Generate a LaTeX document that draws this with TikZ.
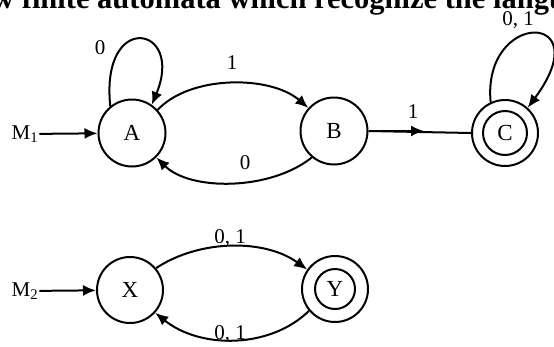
\documentclass[tikz,border=0pt]{standalone}
\usepackage{fontspec}
\setmainfont{Liberation Serif}
\usetikzlibrary{arrows.meta}
\begin{document}
\begin{tikzpicture}[x=1pt,y=-1pt,
  state/.style={circle,draw,line width=2pt,minimum size=67pt,inner sep=0pt,font=\fontsize{23}{25}\selectfont},
  inner/.style={circle,draw,line width=2pt,inner sep=0pt,font=\fontsize{23}{25}\selectfont},
  edge/.style={line width=2pt,-{Latex[length=13pt,width=11pt]}},
  lbl/.style={font=\fontsize{21}{23}\selectfont,inner sep=1pt}]
\useasboundingbox (0,0) rectangle (554,346);
\clip (0,0) rectangle (554,346);
\node[anchor=base west,font=\fontsize{30.5}{34}\bfseries\selectfont,inner sep=0pt] (title) at (-8,8) {w finite automata which recognize the language};
\node[state] (A) at (132,133) {A};
\node[state] (B) at (334,131) {B};
\node[state,minimum size=66pt] (C) at (505,133) {};
\node[inner,minimum size=44pt] (Ci) at (505,133) {C};
\node[state,minimum size=66pt] (X) at (130,290) {X};
\node[state,minimum size=66pt] (Y) at (335,289) {};
\node[inner,minimum size=40pt] (Yi) at (335,289) {Y};
\node[lbl] (M1) at (25,134) {M\textsubscript{1}};
\node[lbl] (M2) at (25,291) {M\textsubscript{2}};
\draw[edge] (M1) -- (A);
\draw[edge] (M2) -- (X);
% A self loop
\draw[edge] (A.129) .. controls (100,10) and (185,25) .. (A.55);
\node[lbl] (l0a) at (100,48) {0};
% A -> B
\draw[edge] (A.42) .. controls (190,75) and (270,75) .. (B.138);
\node[lbl] (l1ab) at (232,63) {1};
% B -> A
\draw[edge] (B.-130) .. controls (270,191) and (190,191) .. (A.-45);
\node[lbl] (l0ba) at (245,163) {0};
% B -> C
\coordinate (bcm) at (424,131);
\draw[line width=2pt] (B.east) -- (C.west);
\draw[edge] (B.east) -- (bcm);
\node[lbl] (l1bc) at (413,112) {1};
% C self loop
\draw[edge] (C.115) .. controls (482,10) and (600,10) .. (C.48);
\node[lbl] (l01c) at (518,20) {0, 1};
% X -> Y
\draw[edge] (X.40) .. controls (200,239) and (265,239) .. (Y.145);
\node[lbl] (l01xy) at (230,238) {0, 1};
% Y -> X
\draw[edge] (Y.-140) .. controls (270,349) and (200,349) .. (X.-42);
\node[lbl] (l01yx) at (230,334) {0, 1};
\end{tikzpicture}
\end{document}
